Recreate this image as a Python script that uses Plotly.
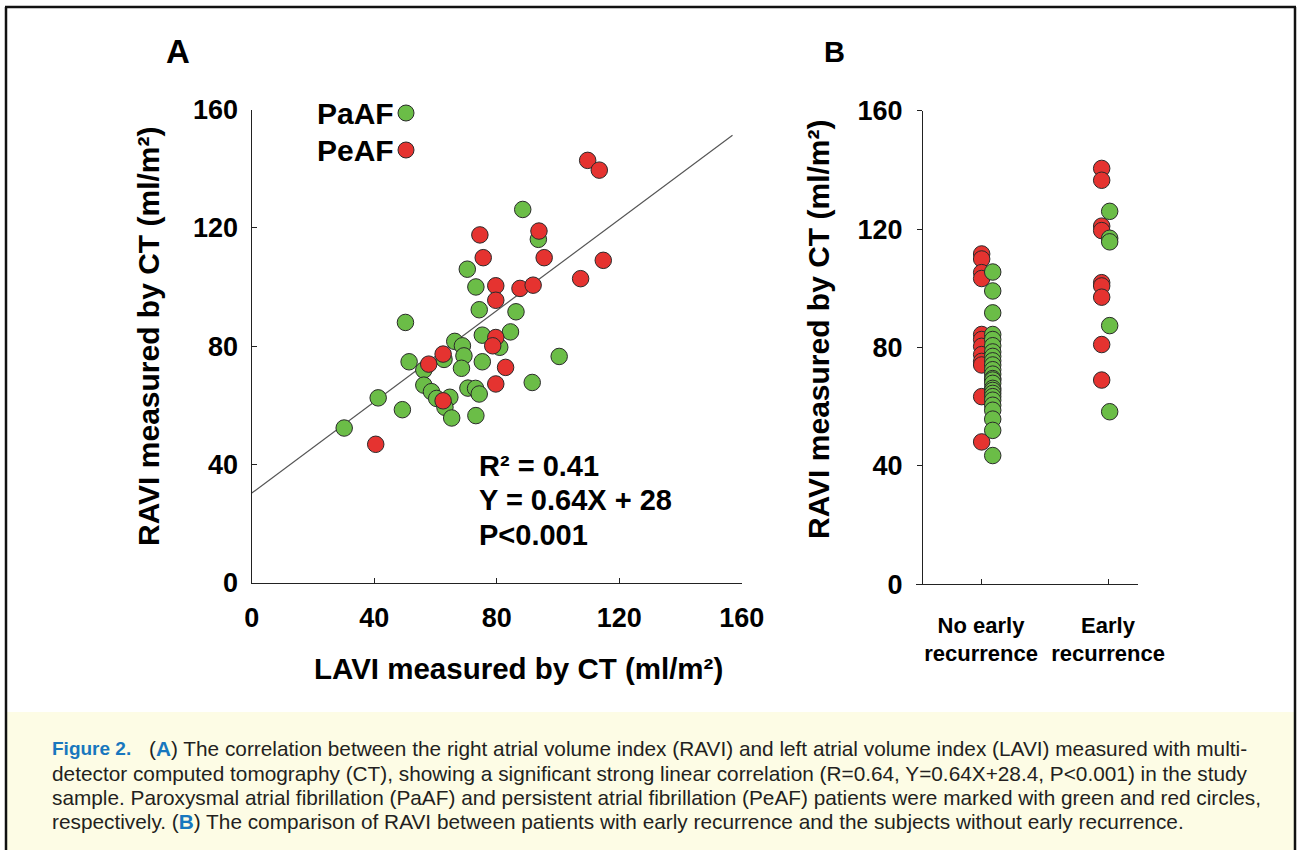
import plotly.graph_objects as go

W, H = 1297, 850

# ---------------- Panel A data (LAVI vs RAVI) ----------------
paaf_lavi = [30.2, 41.3, 49.2, 50.2, 51.4, 56.2, 56.2, 58.7, 60.4, 64.7, 63.1, 65.3,
             66.3, 68.8, 69.3, 68.5, 70.4, 70.6, 73.1, 74.3, 73.2, 73.2, 74.3, 75.3,
             75.3, 81.0, 84.5, 86.3, 88.5, 93.6, 91.6, 100.4, 62.8]
paaf_ravi = [52.3, 62.5, 58.5, 88.0, 74.7, 71.9, 66.8, 64.6, 62.3, 62.7, 59.3, 55.7,
             81.6, 80.1, 76.7, 72.5, 106.0, 65.8, 65.7, 63.8, 56.5, 100.0, 92.3, 83.7,
             74.7, 79.6, 84.8, 91.6, 126.2, 116.1, 67.7, 76.5, 75.5]
peaf_lavi = [40.5, 57.8, 62.5, 62.5, 74.5, 75.6, 79.7, 79.7, 79.7, 78.7, 79.7, 82.9,
             87.6, 91.9, 93.8, 95.5, 107.4, 109.7, 113.5, 114.8]
peaf_ravi = [46.8, 73.9, 77.3, 61.5, 117.6, 109.9, 100.4, 95.5, 82.9, 80.1, 67.2, 72.8,
             99.5, 100.6, 118.9, 109.9, 102.8, 142.8, 139.5, 109.0]
fit_lavi = [0, 157]
fit_ravi = [30.3, 151.3]
stats_lines = ["R² = 0.41", "Y = 0.64X + 28", "P&lt;0.001"]

# ---------------- Panel B data (RAVI by group) ----------------
group_labels = ["No early<br>recurrence", "Early<br>recurrence"]
noearly_peaf = [111.6, 109.9, 105.3, 103.3, 84.4, 82.7, 80.4, 77.6, 75.3, 74.1, 63.4, 48.1]
noearly_paaf = [105.5, 99.1, 91.7, 84.4, 82.7, 80.6, 78.5, 77.0, 75.5, 74.1, 72.5, 71.0,
                69.5, 69.0, 67.9, 66.2, 65.5, 64.5, 63.4, 62.2, 60.5, 58.8, 55.8, 52.0, 43.5]
early_peaf = [140.5, 136.5, 121.0, 119.5, 101.9, 100.8, 97.0, 81.0, 69.0]
early_paaf = [126.0, 116.9, 115.7, 87.4, 58.3]

tick_vals = [0, 40, 80, 120, 160]
legend_names = ["PaAF", "PeAF"]

GREEN = "#6BBD47"
RED = "#E53330"
EDGE = "#2a2a2a"
FONT = "Liberation Sans, Arial, Helvetica, sans-serif"
CAPBLUE = "#1877BE"


def px(x):
    return x / W


def py(y):
    return 1 - y / H


marker_g = dict(color=GREEN, size=16.5, line=dict(color=EDGE, width=1))
marker_r = dict(color=RED, size=16.5, line=dict(color=EDGE, width=1))

fig = go.Figure()

# Panel A
fig.add_trace(go.Scatter(x=fit_lavi, y=fit_ravi, mode="lines",
                         line=dict(color="#555555", width=1.2),
                         xaxis="x", yaxis="y", showlegend=False, hoverinfo="skip"))
fig.add_trace(go.Scatter(x=paaf_lavi, y=paaf_ravi, mode="markers", marker=marker_g,
                         xaxis="x", yaxis="y", name=legend_names[0], showlegend=False))
fig.add_trace(go.Scatter(x=peaf_lavi, y=peaf_ravi, mode="markers", marker=marker_r,
                         xaxis="x", yaxis="y", name=legend_names[1], showlegend=False))

# Panel B (reds drawn first, greens on top), small horizontal offsets as in the original
fig.add_trace(go.Scatter(x=[1.0 + 0.005] * len(noearly_peaf), y=noearly_peaf, mode="markers",
                         marker=marker_r, xaxis="x2", yaxis="y2", showlegend=False))
fig.add_trace(go.Scatter(x=[2.0 - 0.05] * len(early_peaf), y=early_peaf, mode="markers",
                         marker=marker_r, xaxis="x2", yaxis="y2", showlegend=False))
fig.add_trace(go.Scatter(x=[1.0 + 0.092] * len(noearly_paaf), y=noearly_paaf, mode="markers",
                         marker=marker_g, xaxis="x2", yaxis="y2", showlegend=False))
fig.add_trace(go.Scatter(x=[2.0 + 0.013] * len(early_paaf), y=early_paaf, mode="markers",
                         marker=marker_g, xaxis="x2", yaxis="y2", showlegend=False))

tickfont = dict(family=FONT, size=27, color="black", weight="bold")
axcommon = dict(showline=True, linecolor="#222222", linewidth=1.3, showgrid=False,
                zeroline=False, tickcolor="#222222", tickwidth=1.2, ticklen=5,
                tickfont=tickfont, fixedrange=True, automargin=False)

fig.update_layout(
    width=W, height=H,
    margin=dict(l=0, r=0, t=0, b=0, pad=0, autoexpand=False),
    paper_bgcolor="white", plot_bgcolor="rgba(0,0,0,0)",
    showlegend=False,
    xaxis=dict(domain=[px(251.7), px(741.7)], range=[0, 160], anchor="y",
               tickvals=tick_vals, ticks="inside", ticklabelstandoff=11, **axcommon),
    yaxis=dict(domain=[py(582.7), py(109.5)], range=[0, 160], anchor="x",
               tickvals=tick_vals, ticks="inside", ticklabelstandoff=7, **axcommon),
    xaxis2=dict(domain=[px(916), px(1138)], range=[0.488, 2.236], anchor="y2",
                tickvals=[1, 2], ticktext=group_labels, ticks="inside",
                ticklabelstandoff=21,
                **{**axcommon, "tickfont": dict(family=FONT, size=22, color="black", weight="bold")}),
    yaxis2=dict(domain=[py(584.3), py(110.7)], range=[0, 160], anchor="free",
                position=px(922), tickvals=tick_vals, ticks="outside",
                ticklabelstandoff=9, **axcommon),
)

annotations = []
bold = dict(family=FONT, color="black", weight="bold")


def ann(text, x, y, size, xanchor="center", angle=0, font=None):
    return dict(text=text, x=px(x), y=py(y), xref="paper", yref="paper",
                xanchor=xanchor, yanchor="middle", showarrow=False, textangle=angle,
                font=font if font is not None else dict(size=size, **bold))


# Panel letters
annotations.append(ann("A", 178, 52, 33))
annotations.append(ann("B", 834, 52, 29))

# Axis titles
annotations.append(ann("LAVI measured by CT (ml/m²)", 518, 668, 29.5))
annotations.append(ann("RAVI measured by CT (ml/m²)", 148, 336, 30, angle=-90))
annotations.append(ann("RAVI measured by CT (ml/m²)", 818, 329, 30, angle=-90))

# Legend
for name, yy in [(legend_names[0], 113), (legend_names[1], 150)]:
    annotations.append(ann(name, 396, yy, 30, xanchor="right"))

# Stats text
for line, yy in zip(stats_lines, [466, 500, 535]):
    annotations.append(ann(line, 477, yy, 29, xanchor="left"))

# Caption
cap_font = dict(family=FONT, size=20.8, color="#231f20")
annotations.append(ann("<b>Figure 2.</b>", 50, 748, 0, xanchor="left",
                       font=dict(family=FONT, size=19, color=CAPBLUE)))
cap_lines = [
    (147, 748, '(<span style="color:%s"><b>A</b></span>) The correlation between the right atrial volume index (RAVI) and left atrial volume index (LAVI) measured with multi-' % CAPBLUE),
    (50, 773, "detector computed tomography (CT), showing a significant strong linear correlation (R=0.64, Y=0.64X+28.4, P&lt;0.001) in the study"),
    (50, 797, "sample. Paroxysmal atrial fibrillation (PaAF) and persistent atrial fibrillation (PeAF) patients were marked with green and red circles,"),
    (50, 821, 'respectively. (<span style="color:%s"><b>B</b></span>) The comparison of RAVI between patients with early recurrence and the subjects without early recurrence.' % CAPBLUE),
]
for xx, yy, t in cap_lines:
    annotations.append(ann(t, xx, yy, 0, xanchor="left", font=cap_font))

fig.update_layout(annotations=annotations)

shapes = []
# caption band
shapes.append(dict(type="rect", xref="paper", yref="paper", x0=px(7), x1=px(1294),
                   y0=py(850), y1=py(712), fillcolor="#FDFCE5", line=dict(width=0),
                   layer="below"))
# frame
for x0, y0, x1, y1 in [(5, 7, 1296, 7), (6, 7, 6, 850), (1295, 7, 1295, 850)]:
    shapes.append(dict(type="line", xref="paper", yref="paper", x0=px(x0), y0=py(y0),
                       x1=px(x1), y1=py(y1), line=dict(color="#111111", width=2.5)))
# legend markers
for yy, col in [(113, GREEN), (150, RED)]:
    shapes.append(dict(type="circle", xref="paper", yref="paper",
                       xsizemode="pixel", ysizemode="pixel",
                       xanchor=px(406), yanchor=py(yy), x0=-8, x1=8, y0=-8, y1=8,
                       fillcolor=col, line=dict(color=EDGE, width=1)))
fig.update_layout(shapes=shapes)

fig.write_html("out.html", config={"displayModeBar": False},
               post_script="document.body.style.margin='0';")
